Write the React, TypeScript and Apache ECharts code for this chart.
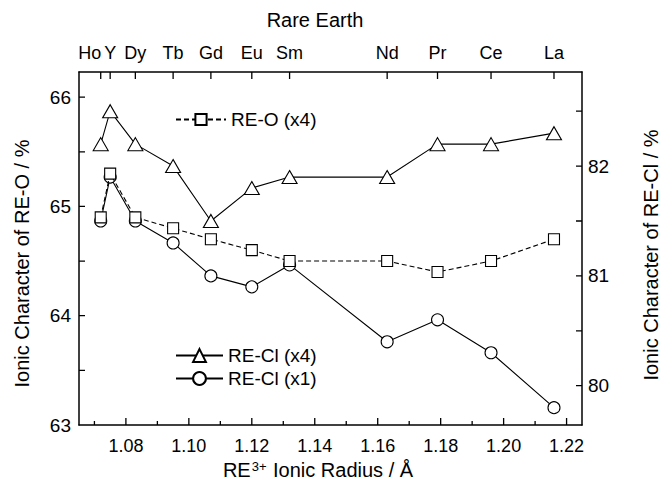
import { useEffect, useRef } from "react";
import * as echarts from "echarts";

// Lanthanide series (plus Y) ordered by RE3+ ionic radius
const elements = ["Ho", "Y", "Dy", "Tb", "Gd", "Eu", "Sm", "Nd", "Pr", "Ce", "La"];
const ionicRadius = [1.072, 1.075, 1.083, 1.095, 1.107, 1.12, 1.132, 1.163, 1.179, 1.196, 1.216];

// Ionic character (%)
const reO_x4 = [64.9, 65.3, 64.9, 64.8, 64.7, 64.6, 64.5, 64.5, 64.4, 64.5, 64.7];
const reCl_x4 = [82.2, 82.5, 82.2, 82.0, 81.5, 81.8, 81.9, 81.9, 82.2, 82.2, 82.3];
const reCl_x1 = [81.5, 81.9, 81.5, 81.3, 81.0, 80.9, 81.1, 80.4, 80.6, 80.3, 79.8];

// Axis ticks
const radiusTicks = [1.08, 1.1, 1.12, 1.14, 1.16, 1.18, 1.2, 1.22];
const radiusMinorTicks = [1.07, 1.09, 1.11, 1.13, 1.15, 1.17, 1.19, 1.21];
const reOLabels = [63, 64, 65, 66];
const reOTicks = [63.5, 64, 64.5, 65, 65.5, 66];
const reClLabels = [80, 81, 82];
const reClTicks = [80, 80.5, 81, 81.5, 82, 82.5];

const FONT = "'Liberation Sans', Arial, Helvetica, sans-serif";
const BLACK = "#000";

const X_MIN = 1.0651;
const X_MAX = 1.2249;
const RE_O_MIN = 63;
const RE_O_MAX = 66.23;
const RE_CL_MIN = 79.642;
const RE_CL_MAX = 82.857;

const GRID = { left: 79, right: 89, top: 72, bottom: 53 };
const PLOT_W = 671 - GRID.left - GRID.right;
const PLOT_H = 478 - GRID.top - GRID.bottom;

const pairs = (ys: number[]) => ionicRadius.map((x, i) => [x, ys[i]]);

// pixel lengths of the inward tick marks, expressed in axis units
const xPerPx = (X_MAX - X_MIN) / PLOT_W;
const reOPerPx = (RE_O_MAX - RE_O_MIN) / PLOT_H;

// Vertical tick segments along x, separated by gaps
const vTicks = (values: number[], y0: number, dy: number) =>
  values.flatMap((v) => [[v, y0], [v, y0 + dy], ["-", "-"]]);
// Horizontal tick segments along y
const hTicks = (values: number[], x0: number, dx: number) =>
  values.flatMap((v) => [[x0, v], [x0 + dx, v], ["-", "-"]]);

function tickSeries(name: string, data: any[], yAxisIndex: number) {
  return {
    name,
    type: "line",
    xAxisIndex: 0,
    yAxisIndex,
    data,
    symbol: "none",
    showSymbol: false,
    connectNulls: false,
    silent: true,
    clip: false,
    z: 6,
    lineStyle: { color: BLACK, width: 1.3 },
  };
}

export default function App() {
  const ref = useRef<HTMLDivElement>(null);

  useEffect(() => {
    if (!ref.current) return;
    const chart = echarts.init(ref.current, null, { renderer: "svg" });

    const markerStyle = { color: "#fff", borderColor: BLACK, borderWidth: 1.1 };
    const axisLine = { show: true, lineStyle: { color: BLACK, width: 1.5 } };

    chart.setOption({
      animation: false,
      textStyle: { fontFamily: FONT, color: BLACK },
      grid: { ...GRID, containLabel: false, outerBoundsMode: "none" },
      graphic: [
        {
          type: "text",
          x: 315,
          y: 20,
          style: {
            text: "Rare Earth",
            fontFamily: FONT,
            fontSize: 20,
            fill: BLACK,
            textAlign: "center",
            textVerticalAlign: "middle",
          },
        },
      ],
      legend: [
        {
          data: ["RE-O (x4)"],
          left: 170,
          top: 105,
          itemWidth: 50,
          itemHeight: 14,
          selectedMode: false,
          textStyle: { fontFamily: FONT, fontSize: 19, color: BLACK },
        },
        {
          data: ["RE-Cl (x4)", "RE-Cl (x1)"],
          orient: "vertical",
          left: 170,
          top: 341,
          itemWidth: 47,
          itemHeight: 16,
          itemGap: 4,
          selectedMode: false,
          textStyle: { fontFamily: FONT, fontSize: 19, color: BLACK },
        },
      ],
      xAxis: [
        {
          type: "value",
          position: "bottom",
          min: X_MIN,
          max: X_MAX,
          splitLine: { show: false },
          axisLine,
          axisTick: { show: false },
          axisLabel: {
            customValues: radiusTicks,
            formatter: (v: number) => v.toFixed(2),
            fontFamily: FONT,
            fontSize: 18,
            color: BLACK,
            margin: 12,
          },
          name: "{n|RE}{sup|3+}{n| Ionic Radius / Å}",
          nameLocation: "middle",
          nameGap: 30,
          nameTextStyle: {
            fontFamily: FONT,
            color: BLACK,
            padding: [0, 25, 0, 0],
            rich: {
              n: { fontFamily: FONT, fontSize: 20, color: BLACK, verticalAlign: "bottom", lineHeight: 20 },
              sup: {
                fontFamily: FONT,
                fontSize: 13,
                color: BLACK,
                verticalAlign: "top",
                lineHeight: 13,
                padding: [0, 1, 8, 1],
              },
            },
          },
        },
        {
          type: "value",
          position: "top",
          min: X_MIN,
          max: X_MAX,
          splitLine: { show: false },
          axisLine,
          axisTick: { show: false },
          axisLabel: {
            customValues: ionicRadius,
            formatter: (v: number) => {
              const i = ionicRadius.findIndex((r) => Math.abs(r - v) < 1e-6);
              if (i < 0) return "";
              return i === 0 ? `{ho|${elements[i]}}` : elements[i];
            },
            fontFamily: FONT,
            fontSize: 18,
            color: BLACK,
            margin: 10,
            rich: {
              ho: { fontFamily: FONT, fontSize: 18, color: BLACK, padding: [0, 22, 0, 0] },
            },
          },
        },
      ],
      yAxis: [
        {
          type: "value",
          position: "left",
          min: RE_O_MIN,
          max: RE_O_MAX,
          splitLine: { show: false },
          axisLine,
          axisTick: { show: false },
          axisLabel: {
            customValues: reOLabels,
            formatter: (v: number) => String(Math.round(v)),
            fontFamily: FONT,
            fontSize: 19,
            color: BLACK,
            margin: 8,
          },
          name: "Ionic Character of RE-O / %",
          nameLocation: "middle",
          nameGap: 47,
          nameRotate: 90,
          nameTextStyle: { fontFamily: FONT, fontSize: 20, color: BLACK, padding: [0, 30, 0, 0] },
        },
        {
          type: "value",
          position: "right",
          min: RE_CL_MIN,
          max: RE_CL_MAX,
          splitLine: { show: false },
          axisLine,
          axisTick: { show: false },
          axisLabel: {
            customValues: reClLabels,
            formatter: (v: number) => String(Math.round(v)),
            fontFamily: FONT,
            fontSize: 19,
            color: BLACK,
            margin: 6,
          },
          name: "Ionic Character of RE-Cl / %",
          nameLocation: "middle",
          nameGap: 59,
          nameRotate: 90,
          nameTextStyle: { fontFamily: FONT, fontSize: 20, color: BLACK, padding: [0, 13, 0, 0] },
        },
      ],
      series: [
        tickSeries("ticks-bottom", vTicks(radiusTicks, RE_O_MIN, 7 * reOPerPx), 0),
        tickSeries("ticks-bottom-minor", vTicks(radiusMinorTicks, RE_O_MIN, 4 * reOPerPx), 0),
        tickSeries("ticks-top", vTicks(ionicRadius, RE_O_MAX, -7 * reOPerPx), 0),
        tickSeries("ticks-left", hTicks(reOTicks, X_MIN, 6 * xPerPx), 0),
        tickSeries("ticks-right", hTicks(reClTicks, X_MAX, -6 * xPerPx), 1),
        {
          name: "RE-Cl (x1)",
          type: "line",
          xAxisIndex: 0,
          yAxisIndex: 1,
          data: pairs(reCl_x1),
          symbol: "circle",
          symbolSize: 12,
          showAllSymbol: true,
          lineStyle: { color: BLACK, width: 1.1 },
          itemStyle: markerStyle,
          z: 2,
        },
        {
          name: "RE-Cl (x4)",
          type: "line",
          xAxisIndex: 0,
          yAxisIndex: 1,
          data: pairs(reCl_x4),
          symbol: "triangle",
          symbolSize: [15, 13],
          showAllSymbol: true,
          lineStyle: { color: BLACK, width: 1.1 },
          itemStyle: markerStyle,
          z: 3,
        },
        {
          name: "RE-O (x4)",
          type: "line",
          xAxisIndex: 0,
          yAxisIndex: 0,
          data: pairs(reO_x4),
          symbol: "rect",
          symbolSize: 11,
          showAllSymbol: true,
          lineStyle: { color: BLACK, width: 1.1, type: [5, 3] },
          itemStyle: markerStyle,
          z: 4,
        },
      ],
    });

    return () => chart.dispose();
  }, []);

  return (
    <div
      ref={ref}
      style={{ position: "fixed", left: 0, top: 0, width: 671, height: 478, background: "#fff" }}
    />
  );
}
